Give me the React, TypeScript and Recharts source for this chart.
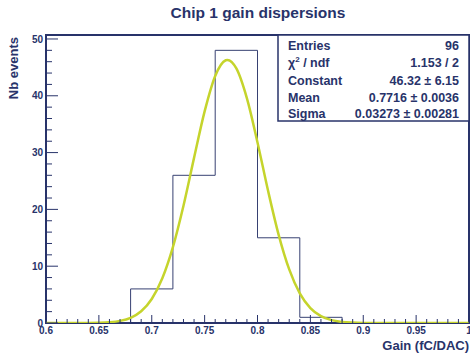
import React from 'react';
import { ComposedChart, Line, XAxis, YAxis, ReferenceArea } from 'recharts';

const NAVY = '#28336a';
const HIST = '#374172';
const FIT = '#c5d42c';
const FONT = '"Liberation Sans", Arial, Helvetica, sans-serif';

// Histogram: lower bin edges and counts (bin width 0.04)
const binEdges = [0.6, 0.68, 0.72, 0.76, 0.8, 0.84, 0.88, 1.0];
const binCounts = [0, 6, 26, 48, 15, 1, 0, 0];

// Gaussian fit curve
const fitX = [0.6, 0.62, 0.63, 0.64, 0.65, 0.66, 0.67, 0.68, 0.69, 0.7, 0.71, 0.72, 0.73, 0.74, 0.75, 0.76, 0.77, 0.7716, 0.78, 0.79, 0.8, 0.81, 0.82, 0.83, 0.84, 0.85, 0.86, 0.87, 0.88, 0.89, 0.9, 0.92, 0.95, 1.0];
const fitY = [0, 0.001, 0.004, 0.014, 0.047, 0.138, 0.374, 0.922, 2.07, 4.23, 7.88, 13.36, 20.65, 29.07, 37.26, 43.5, 46.26, 46.32, 44.82, 39.55, 31.79, 23.27, 15.52, 9.43, 5.22, 2.63, 1.21, 0.5, 0.19, 0.067, 0.021, 0.001, 0, 0];

const xTicks = [0.6, 0.61, 0.62, 0.63, 0.64, 0.65, 0.66, 0.67, 0.68, 0.69, 0.7, 0.71, 0.72, 0.73, 0.74, 0.75, 0.76, 0.77, 0.78, 0.79, 0.8, 0.81, 0.82, 0.83, 0.84, 0.85, 0.86, 0.87, 0.88, 0.89, 0.9, 0.91, 0.92, 0.93, 0.94, 0.95, 0.96, 0.97, 0.98, 0.99, 1.0];
const xMajor = [0.6, 0.65, 0.7, 0.75, 0.8, 0.85, 0.9, 0.95, 1.0];
const xLabels = ['0.6', '0.65', '0.7', '0.75', '0.8', '0.85', '0.9', '0.95', '1'];

const yTicks = [0, 2, 4, 6, 8, 10, 12, 14, 16, 18, 20, 22, 24, 26, 28, 30, 32, 34, 36, 38, 40, 42, 44, 46, 48, 50];
const yMajor = [0, 10, 20, 30, 40, 50];
const yLabels = ['0', '10', '20', '30', '40', '50'];

const statNames = ['Entries', 'χ2 / ndf', 'Constant', 'Mean', 'Sigma'];
const statValues = ['96', '1.153 / 2', '46.32 ± 6.15', '0.7716 ± 0.0036', '0.03273 ± 0.00281'];

const histData = binEdges.map((x, i) => ({ x, y: binCounts[i] }));
const fitData = fitX.map((x, i) => ({ x, y: fitY[i] }));

const XTick = (props: any) => {
  const { x, y, payload } = props;
  const idx = xMajor.findIndex((m) => Math.abs(m - payload.value) < 1e-6);
  const major = idx >= 0;
  return (
    <g>
      <line x1={x} x2={x} y1={y} y2={y - (major ? 8 : 4)} stroke={NAVY} strokeWidth={1} />
      {major && (
        <text x={x} y={y + 11} textAnchor="middle" fontFamily={FONT} fontWeight="bold" fontSize={10} fill={NAVY}>
          {xLabels[idx]}
        </text>
      )}
    </g>
  );
};

const YTick = (props: any) => {
  const { x, y, payload } = props;
  const idx = yMajor.findIndex((m) => Math.abs(m - payload.value) < 1e-6);
  const major = idx >= 0;
  return (
    <g>
      <line x1={x} x2={x + (major ? 12 : 6)} y1={y} y2={y} stroke={NAVY} strokeWidth={1} />
      {major && (
        <text x={x - 3} y={y + 3.6} textAnchor="end" fontFamily={FONT} fontWeight="bold" fontSize={10} fill={NAVY}>
          {yLabels[idx]}
        </text>
      )}
    </g>
  );
};

export default function App() {
  const rowBase = [50, 66.8, 85, 101.7, 117.5];
  return (
    <div style={{ position: 'absolute', left: 0, top: 0, width: 470, height: 353, background: '#fff' }}>
      <ComposedChart width={470} height={353} margin={{ top: 35, right: 1, bottom: 0, left: 0 }}>
        <XAxis
          dataKey="x"
          type="number"
          domain={[0.6, 1.0]}
          ticks={xTicks}
          interval={0}
          height={30}
          tickSize={0}
          tickMargin={0}
          axisLine={false}
          tickLine={false}
          tick={<XTick />}
          allowDataOverflow
        />
        <YAxis
          type="number"
          domain={[0, 50.7]}
          ticks={yTicks}
          interval={0}
          width={46}
          tickSize={0}
          tickMargin={0}
          axisLine={false}
          tickLine={false}
          tick={<YTick />}
          allowDataOverflow
        />
        <ReferenceArea x1={0.6} x2={1.0} y1={0} y2={50.7} fill="none" stroke={NAVY} strokeWidth={2} ifOverflow="visible" />
        <Line data={histData} dataKey="y" type="stepAfter" dot={false} stroke={HIST} strokeWidth={1} isAnimationActive={false} />
        <Line data={fitData} dataKey="y" type="monotone" dot={false} stroke={FIT} strokeWidth={2.5} isAnimationActive={false} />
      </ComposedChart>
      <svg width={470} height={353} style={{ position: 'absolute', left: 0, top: 0, pointerEvents: 'none' }}>
        <text x={258} y={17.5} textAnchor="middle" fontFamily={FONT} fontWeight="bold" fontSize={15.5} fill={NAVY}>
          Chip 1 gain dispersions
        </text>
        <text x={17.5} y={37} transform="rotate(-90 17.5 37)" textAnchor="end" fontFamily={FONT} fontWeight="bold" fontSize={13} fill={NAVY}>
          Nb events
        </text>
        <text x={469} y={349.5} textAnchor="end" fontFamily={FONT} fontWeight="bold" fontSize={13} fill={NAVY}>
          Gain (fC/DAC)
        </text>
        <rect x={278} y={35} width={191} height={86} fill="#fff" stroke={NAVY} strokeWidth={1.5} />
        {statNames.map((n, i) => (
          <text key={n} x={288} y={rowBase[i]} fontFamily={FONT} fontWeight="bold" fontSize={12.5} fill={NAVY}>
            {i === 1 ? (
              <>
                <tspan>χ</tspan>
                <tspan dy={-5} fontSize={8}>2</tspan>
                <tspan dy={5}> / ndf</tspan>
              </>
            ) : (
              n
            )}
          </text>
        ))}
        {statValues.map((v, i) => (
          <text key={v} x={459} y={rowBase[i]} textAnchor="end" fontFamily={FONT} fontWeight="bold" fontSize={12.5} fill={NAVY}>
            {v}
          </text>
        ))}
      </svg>
    </div>
  );
}
